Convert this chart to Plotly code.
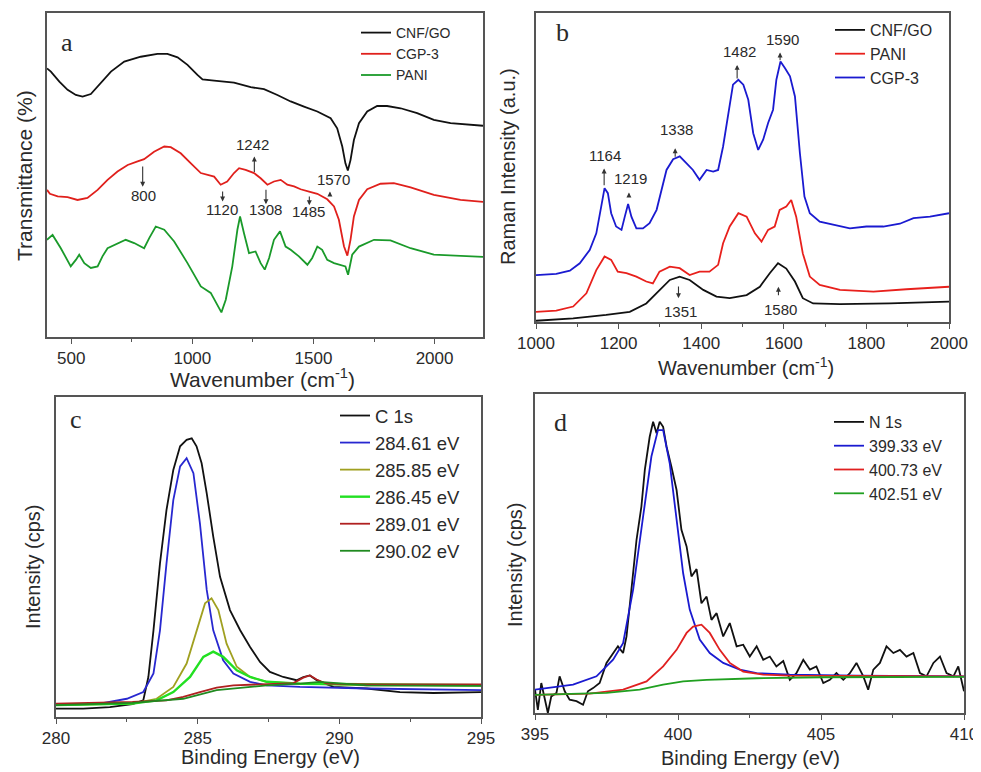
import plotly.graph_objects as go

# ---------------- Panel a: FTIR ----------------
a_cnf_x = [400, 416, 451, 485, 519, 547, 581, 622, 664, 719, 787, 856, 897, 939, 980, 1021, 1042, 1090, 1172, 1241, 1296, 1351, 1406, 1461, 1516, 1571, 1598, 1619, 1632, 1642, 1653, 1667, 1688, 1722, 1763, 1804, 1860, 1928, 1997, 2066, 2200]
a_cnf_y = [82.9, 81.9, 78.8, 76.3, 74.7, 74.2, 75.0, 78.3, 81.9, 85.0, 86.5, 87.4, 87.4, 86.3, 84.0, 80.9, 79.5, 79.1, 78.5, 77.1, 76.5, 74.7, 72.7, 71.1, 69.6, 67.5, 64.4, 58.8, 53.6, 51.4, 54.6, 60.8, 66.0, 69.6, 71.3, 71.3, 70.6, 69.1, 67.0, 66.0, 65.2]
a_cgp_x = [400, 412, 444, 485, 526, 567, 609, 650, 691, 733, 774, 801, 842, 884, 911, 952, 994, 1035, 1090, 1117, 1144, 1172, 1193, 1220, 1255, 1282, 1310, 1337, 1365, 1392, 1420, 1447, 1482, 1516, 1557, 1585, 1605, 1626, 1640, 1653, 1667, 1688, 1722, 1777, 1832, 1901, 1997, 2107, 2200]
a_cgp_y = [45.4, 44.2, 43.4, 43.2, 42.3, 42.9, 45.4, 48.5, 51.1, 53.1, 54.2, 54.9, 57.2, 58.8, 58.6, 56.7, 53.6, 50.6, 49.5, 47.0, 48.0, 50.6, 52.1, 51.6, 50.6, 49.0, 47.0, 48.0, 48.5, 47.0, 46.5, 45.6, 44.9, 44.2, 42.5, 40.3, 36.2, 28.0, 25.1, 30.0, 37.2, 42.3, 45.6, 47.3, 47.5, 46.2, 43.9, 42.3, 41.7]
a_pani_x = [400, 423, 457, 498, 519, 533, 554, 581, 609, 629, 650, 684, 725, 760, 801, 822, 849, 884, 925, 980, 1035, 1076, 1103, 1120, 1138, 1165, 1186, 1197, 1213, 1234, 1261, 1282, 1299, 1317, 1337, 1362, 1385, 1406, 1440, 1475, 1495, 1516, 1536, 1557, 1585, 1612, 1632, 1643, 1660, 1688, 1750, 1818, 1901, 1997, 2200]
a_pani_y = [30.0, 31.5, 27.4, 21.8, 23.8, 25.4, 22.8, 21.3, 21.8, 24.9, 27.4, 28.5, 30.0, 29.0, 27.4, 30.5, 34.1, 33.1, 29.5, 22.8, 15.6, 13.6, 10.0, 7.6, 11.5, 21.8, 33.1, 37.2, 32.1, 25.9, 26.4, 22.8, 20.8, 24.4, 30.0, 32.6, 27.9, 26.9, 24.9, 22.3, 24.4, 27.9, 26.9, 23.8, 22.8, 22.3, 21.8, 19.2, 25.4, 27.9, 30.0, 29.8, 27.4, 25.4, 24.7]
a_peak_labels = ["800", "1120", "1242", "1308", "1485", "1570"]
a_peak_text_x = [800, 1121, 1249, 1304, 1479, 1582]
a_peak_text_y = [43.8, 39.4, 59.3, 39.2, 38.7, 48.7]
a_arrow_x = [795, 1125, 1256, 1304, 1483, 1568]
a_arrow_tail_y = [53.1, 45.4, 50.5, 45.9, 43.8, 43.3]
a_arrow_head_y = [46.4, 41.8, 55.7, 41.0, 40.7, 44.9]

# ---------------- Panel b: Raman ----------------
b_cgp_x = [1000, 1049, 1082, 1106, 1130, 1146, 1158, 1166, 1174, 1182, 1194, 1207, 1215, 1223, 1231, 1243, 1259, 1275, 1292, 1304, 1316, 1332, 1348, 1364, 1380, 1396, 1413, 1429, 1441, 1453, 1465, 1477, 1490, 1502, 1514, 1526, 1538, 1550, 1562, 1574, 1582, 1592, 1603, 1615, 1627, 1639, 1650, 1663, 1687, 1720, 1760, 1800, 1841, 1881, 1914, 1954, 2000]
b_cgp_y = [15.2, 15.6, 16.6, 19.0, 23.3, 28.7, 37.4, 43.3, 41.7, 35.2, 30.9, 29.8, 34.1, 38.2, 34.1, 30.3, 30.3, 32.0, 36.3, 42.8, 49.2, 52.7, 53.6, 51.4, 49.2, 46.0, 49.2, 48.7, 49.2, 56.8, 67.6, 76.8, 78.4, 76.8, 71.9, 61.1, 55.7, 59.0, 64.4, 68.7, 78.4, 84.3, 82.1, 79.5, 73.0, 54.6, 40.6, 35.2, 32.5, 31.4, 30.3, 30.9, 30.9, 31.8, 33.6, 34.1, 35.2]
b_pani_x = [1000, 1049, 1090, 1122, 1146, 1166, 1182, 1198, 1219, 1243, 1267, 1283, 1299, 1324, 1348, 1372, 1396, 1420, 1441, 1453, 1469, 1490, 1510, 1530, 1546, 1562, 1578, 1590, 1606, 1618, 1630, 1646, 1663, 1687, 1736, 1817, 1897, 2000]
b_pani_y = [3.3, 3.7, 5.0, 9.3, 16.8, 21.2, 20.1, 16.3, 15.8, 14.7, 13.1, 12.5, 16.3, 17.9, 17.4, 15.2, 16.3, 16.3, 18.5, 25.5, 30.9, 35.2, 34.1, 28.7, 26.0, 29.8, 30.9, 36.3, 37.4, 39.5, 34.1, 22.2, 14.7, 12.0, 10.4, 9.8, 10.6, 11.4]
b_cnf_x = [1000, 1090, 1170, 1227, 1267, 1299, 1324, 1348, 1372, 1405, 1437, 1469, 1510, 1542, 1566, 1586, 1606, 1627, 1646, 1671, 1736, 1857, 2000]
b_cnf_y = [0.4, 1.2, 2.3, 3.3, 6.0, 10.4, 13.6, 14.7, 13.6, 10.4, 8.2, 7.7, 8.7, 11.4, 15.8, 19.0, 17.3, 13.1, 7.7, 6.0, 5.8, 6.0, 6.6]
b_peak_labels = ["1164", "1219", "1338", "1482", "1590", "1351", "1580"]
b_peak_text_x = [1167, 1228, 1339, 1492, 1597, 1350, 1591]
b_peak_text_y = [54.0, 46.5, 62.4, 87.5, 91.5, 3.3, 4.1]
b_arrow_x = [1165, 1225, 1337, 1487, 1591, 1345, 1587]
b_arrow_tail_y = [43.8, 40.0, 53.0, 78.3, 84.2, 12.0, 8.2]
b_arrow_head_y = [49.7, 41.9, 56.2, 83.2, 87.2, 7.7, 11.4]

# ---------------- Panel c: C 1s XPS ----------------
c_raw_x = [280, 280.96, 281.9, 282.7, 283.08, 283.26, 283.44, 283.67, 283.9, 284.14, 284.38, 284.61, 284.79, 284.96, 285.14, 285.32, 285.55, 285.79, 286.14, 286.5, 286.85, 287.2, 287.55, 288.02, 288.49, 288.73, 288.96, 289.2, 289.79, 290.96, 292.14, 293.32, 295]
c_raw_y = [2.6, 2.6, 3.1, 4.0, 5.2, 12.5, 27.1, 48.0, 64.7, 77.2, 84.6, 86.6, 87.1, 84.6, 79.3, 69.9, 56.4, 43.8, 33.4, 27.1, 21.9, 17.2, 14.1, 12.5, 11.5, 12.5, 13.0, 11.5, 9.4, 8.9, 7.8, 7.5, 7.8]
c_p1_x = [280, 281.55, 282.5, 283.08, 283.44, 283.67, 283.9, 284.14, 284.38, 284.61, 284.85, 285.08, 285.32, 285.55, 285.9, 286.26, 286.85, 287.44, 288.61, 290.96, 295]
c_p1_y = [3.7, 4.2, 5.7, 7.8, 13.6, 27.1, 48.0, 67.8, 78.3, 80.9, 76.2, 60.5, 39.7, 27.1, 17.7, 13.6, 11.0, 9.9, 9.4, 8.9, 8.4]
c_p2_x = [280, 282.7, 283.55, 284.14, 284.61, 284.96, 285.26, 285.49, 285.73, 286.02, 286.38, 286.85, 287.44, 288.61, 290.96, 295]
c_p2_y = [3.7, 4.2, 5.7, 9.4, 16.7, 27.1, 35.5, 37.1, 33.4, 22.9, 15.7, 12.5, 11.0, 10.4, 9.9, 9.9]
c_p3_x = [280, 282.7, 283.55, 284.14, 284.73, 285.2, 285.55, 285.9, 286.38, 286.85, 287.44, 288.61, 295]
c_p3_y = [3.7, 4.2, 5.2, 7.8, 12.5, 18.8, 20.4, 18.8, 14.6, 12.5, 11.0, 10.4, 9.9]
c_p4_x = [280, 282.7, 283.9, 284.49, 285.08, 285.67, 286.26, 287.44, 288.38, 288.73, 288.96, 289.2, 289.55, 290.96, 295]
c_p4_y = [4.2, 4.7, 5.2, 6.3, 7.8, 9.2, 9.9, 10.4, 10.6, 12.3, 13.0, 11.7, 10.4, 10.2, 10.2]
c_p5_x = [280, 282.7, 284.49, 285.67, 287.44, 288.61, 289.32, 290.96, 295]
c_p5_y = [3.7, 4.4, 5.7, 8.4, 9.9, 10.4, 11.0, 9.9, 9.7]

# ---------------- Panel d: N 1s XPS ----------------
d_raw_x = [395, 395.1, 395.22, 395.34, 395.45, 395.57, 395.75, 395.86, 396.04, 396.21, 396.45, 396.68, 396.85, 397.03, 397.26, 397.5, 397.73, 397.9, 398.08, 398.2, 398.37, 398.55, 398.72, 398.84, 399.01, 399.13, 399.25, 399.36, 399.48, 399.6, 399.77, 399.95, 400.12, 400.3, 400.47, 400.65, 400.82, 401.0, 401.17, 401.35, 401.58, 401.81, 402.05, 402.28, 402.51, 402.75, 402.98, 403.21, 403.44, 403.68, 403.91, 404.14, 404.38, 404.61, 404.84, 405.08, 405.31, 405.54, 405.78, 406.01, 406.24, 406.48, 406.65, 406.83, 407.06, 407.29, 407.53, 407.76, 407.99, 408.23, 408.46, 408.69, 408.93, 409.16, 409.39, 409.63, 409.8, 409.92, 410]
d_raw_y = [7.3, 1.0, 9.4, 4.2, 0.0, 5.2, 6.3, 11.5, 6.8, 4.2, 3.7, 2.6, 6.8, 7.8, 9.4, 15.7, 18.8, 20.9, 18.8, 24.0, 38.6, 54.3, 64.7, 76.2, 86.6, 91.3, 87.7, 91.3, 89.7, 83.5, 77.2, 69.9, 57.4, 52.2, 42.8, 45.1, 34.4, 36.5, 29.2, 31.3, 24.0, 28.2, 20.9, 21.4, 17.7, 20.9, 16.7, 17.7, 14.6, 16.3, 10.4, 12.5, 16.7, 13.6, 14.6, 9.4, 10.4, 12.5, 10.4, 12.5, 15.7, 11.5, 7.3, 13.6, 15.7, 20.9, 18.8, 19.8, 17.7, 18.8, 12.5, 11.5, 15.7, 17.7, 12.5, 11.5, 14.6, 9.4, 6.8]
d_p1_x = [395, 396.33, 397.15, 397.73, 398.08, 398.43, 398.78, 399.07, 399.3, 399.48, 399.71, 399.95, 400.18, 400.41, 400.76, 401.11, 401.58, 402.16, 402.75, 403.91, 406.24, 410]
d_p1_y = [7.3, 8.9, 11.5, 16.7, 21.9, 38.6, 61.6, 80.4, 88.7, 88.7, 78.3, 61.6, 43.8, 32.4, 23.0, 18.8, 15.7, 13.6, 12.5, 12.0, 11.7, 11.5]
d_p2_x = [395, 396.91, 398.08, 398.9, 399.48, 399.95, 400.3, 400.53, 400.82, 401.11, 401.46, 401.81, 402.28, 402.98, 403.91, 410]
d_p2_y = [5.7, 6.1, 7.3, 9.9, 14.6, 19.8, 25.1, 27.1, 27.7, 25.1, 19.8, 15.7, 13.0, 12.0, 11.7, 11.5]
d_p3_x = [395, 397.5, 398.66, 399.48, 400.18, 401.0, 402.75, 405.08, 410]
d_p3_y = [5.7, 6.3, 7.3, 8.9, 9.9, 10.4, 10.9, 11.2, 11.3]

FONT = "Liberation Sans, Arial, sans-serif"
TXT = "#2a2a2a"
AX = "#555555"

fig = go.Figure()

def add(x, y, name, color, xa, ya, leg, width=1.8):
    fig.add_trace(go.Scatter(x=x, y=y, mode="lines", name=name,
                             line=dict(color=color, width=width),
                             xaxis=xa, yaxis=ya, legend=leg))

add(a_cnf_x, a_cnf_y, "CNF/GO", "#111111", "x", "y", "legend")
add(a_cgp_x, a_cgp_y, "CGP-3", "#e0201c", "x", "y", "legend")
add(a_pani_x, a_pani_y, "PANI", "#1a9a2a", "x", "y", "legend")

add(b_cnf_x, b_cnf_y, "CNF/GO", "#111111", "x2", "y2", "legend2")
add(b_pani_x, b_pani_y, "PANI", "#e8201c", "x2", "y2", "legend2")
add(b_cgp_x, b_cgp_y, "CGP-3", "#1a1ad0", "x2", "y2", "legend2")

add(c_raw_x, c_raw_y, "C 1s", "#111111", "x3", "y3", "legend3")
add(c_p1_x, c_p1_y, "284.61 eV", "#2828d0", "x3", "y3", "legend3")
add(c_p2_x, c_p2_y, "285.85 eV", "#a0a020", "x3", "y3", "legend3")
add(c_p3_x, c_p3_y, "286.45 eV", "#22e022", "x3", "y3", "legend3", 2.4)
add(c_p4_x, c_p4_y, "289.01 eV", "#b02020", "x3", "y3", "legend3")
add(c_p5_x, c_p5_y, "290.02 eV", "#208a20", "x3", "y3", "legend3")

add(d_raw_x, d_raw_y, "N 1s", "#111111", "x4", "y4", "legend4")
add(d_p1_x, d_p1_y, "399.33 eV", "#1a1ad0", "x4", "y4", "legend4")
add(d_p2_x, d_p2_y, "400.73 eV", "#e02020", "x4", "y4", "legend4")
add(d_p3_x, d_p3_y, "402.51 eV", "#20a020", "x4", "y4", "legend4")

# page body has an 8px margin; the figure is sized so it fills the window exactly
OFF = 8
W, H = 981 - OFF, 772 - OFF
def px(v): return (v - OFF) / W
def py(v): return 1 - (v - OFF) / H

def xaxis(dom, rng, dtick, anchor, size=17):
    return dict(domain=[px(dom[0]), px(dom[1])], range=rng, anchor=anchor, automargin=False,
                showline=True, linecolor=AX, linewidth=1.5, mirror=True,
                ticks="outside", ticklen=5, tickwidth=1.2, tickcolor=AX,
                dtick=dtick, tick0=0, showgrid=False, zeroline=False,
                tickfont=dict(family=FONT, size=size, color=TXT),
                minor=dict(ticks="outside", ticklen=3, tickcolor=AX, dtick=dtick / 2, tick0=0, showgrid=False))

def yaxis(dom, rng, anchor):
    return dict(domain=[py(dom[1]), py(dom[0])], range=rng, anchor=anchor, automargin=False,
                showline=True, linecolor=AX, linewidth=1.5, mirror=True,
                ticks="", showticklabels=False, showgrid=False, zeroline=False)

leg_common = dict(bgcolor="rgba(0,0,0,0)", borderwidth=0, tracegroupgap=0,
                  xanchor="left", yanchor="top", itemclick=False)

anns = []
def title(text, x, y, size=21, angle=0):
    anns.append(dict(text=text, x=px(x), y=py(y), xref="paper", yref="paper",
                     showarrow=False, textangle=angle,
                     font=dict(family=FONT, size=size, color=TXT),
                     xanchor="center", yanchor="middle"))

title("Transmittance (%)", 24, 176, 21, -90)
title("Wavenumber (cm<sup>-1</sup>)", 262, 378, 21)
title("Raman Intensity (a.u.)", 508, 167, 20, -90)
title("Wavenumber (cm<sup>-1</sup>)", 746, 366, 20)
title("Intensity (cps)", 33, 567, 20, -90)
title("Binding Energy (eV)", 270, 757, 20)
title("Intensity (cps)", 515, 565, 20, -90)
title("Binding Energy (eV)", 750, 758, 20)

for lab, lx, ly in [("a", 67, 42), ("b", 562, 33), ("c", 76, 420), ("d", 560, 422)]:
    anns.append(dict(text=lab, x=px(lx), y=py(ly), xref="paper", yref="paper",
                     showarrow=False, font=dict(family="Liberation Serif, Times New Roman, serif", size=26, color=TXT),
                     xanchor="center", yanchor="middle"))

def peaks(labels, tx, ty, axx, tailY, headY, xr, yr):
    for lab, x, y in zip(labels, tx, ty):
        anns.append(dict(text=lab, x=x, y=y, xref=xr, yref=yr, showarrow=False,
                         font=dict(family=FONT, size=15, color=TXT)))
    for x, t, h in zip(axx, tailY, headY):
        anns.append(dict(text="", x=x, y=h, ax=x, ay=t, xref=xr, yref=yr, axref=xr, ayref=yr,
                         showarrow=True, arrowhead=2, arrowsize=0.9, arrowwidth=1.1, arrowcolor="#333333"))

peaks(a_peak_labels, a_peak_text_x, a_peak_text_y, a_arrow_x, a_arrow_tail_y, a_arrow_head_y, "x", "y")
peaks(b_peak_labels, b_peak_text_x, b_peak_text_y, b_arrow_x, b_arrow_tail_y, b_arrow_head_y, "x2", "y2")

fig.update_layout(
    width=W, height=H, margin=dict(l=0, r=0, t=0, b=0),
    paper_bgcolor="white", plot_bgcolor="white",
    font=dict(family=FONT, color=TXT),
    xaxis=xaxis((47, 483), [400, 2200], 500, "y"),
    yaxis=yaxis((13, 337), [0, 100], "x"),
    xaxis2=xaxis((536, 949), [1000, 2000], 200, "y2"),
    yaxis2=yaxis((13, 322), [0, 100], "x2"),
    xaxis3=xaxis((56, 481), [280, 295], 5, "y3", 17),
    yaxis3=yaxis((397, 717), [0, 100], "x3"),
    xaxis4=xaxis((535, 964), [395, 410], 5, "y4", 17),
    yaxis4=yaxis((394, 713), [0, 100], "x4"),
    legend=dict(x=px(356), y=py(17), font=dict(family=FONT, size=14, color=TXT), **leg_common),
    legend2=dict(x=px(830), y=py(13), font=dict(family=FONT, size=16, color=TXT), **leg_common),
    legend3=dict(x=px(335), y=py(397), font=dict(family=FONT, size=18.5, color=TXT), **leg_common),
    legend4=dict(x=px(829), y=py(405), font=dict(family=FONT, size=16, color=TXT), **leg_common),
    annotations=anns,
    showlegend=True,
)

fig.write_html("out.html")
